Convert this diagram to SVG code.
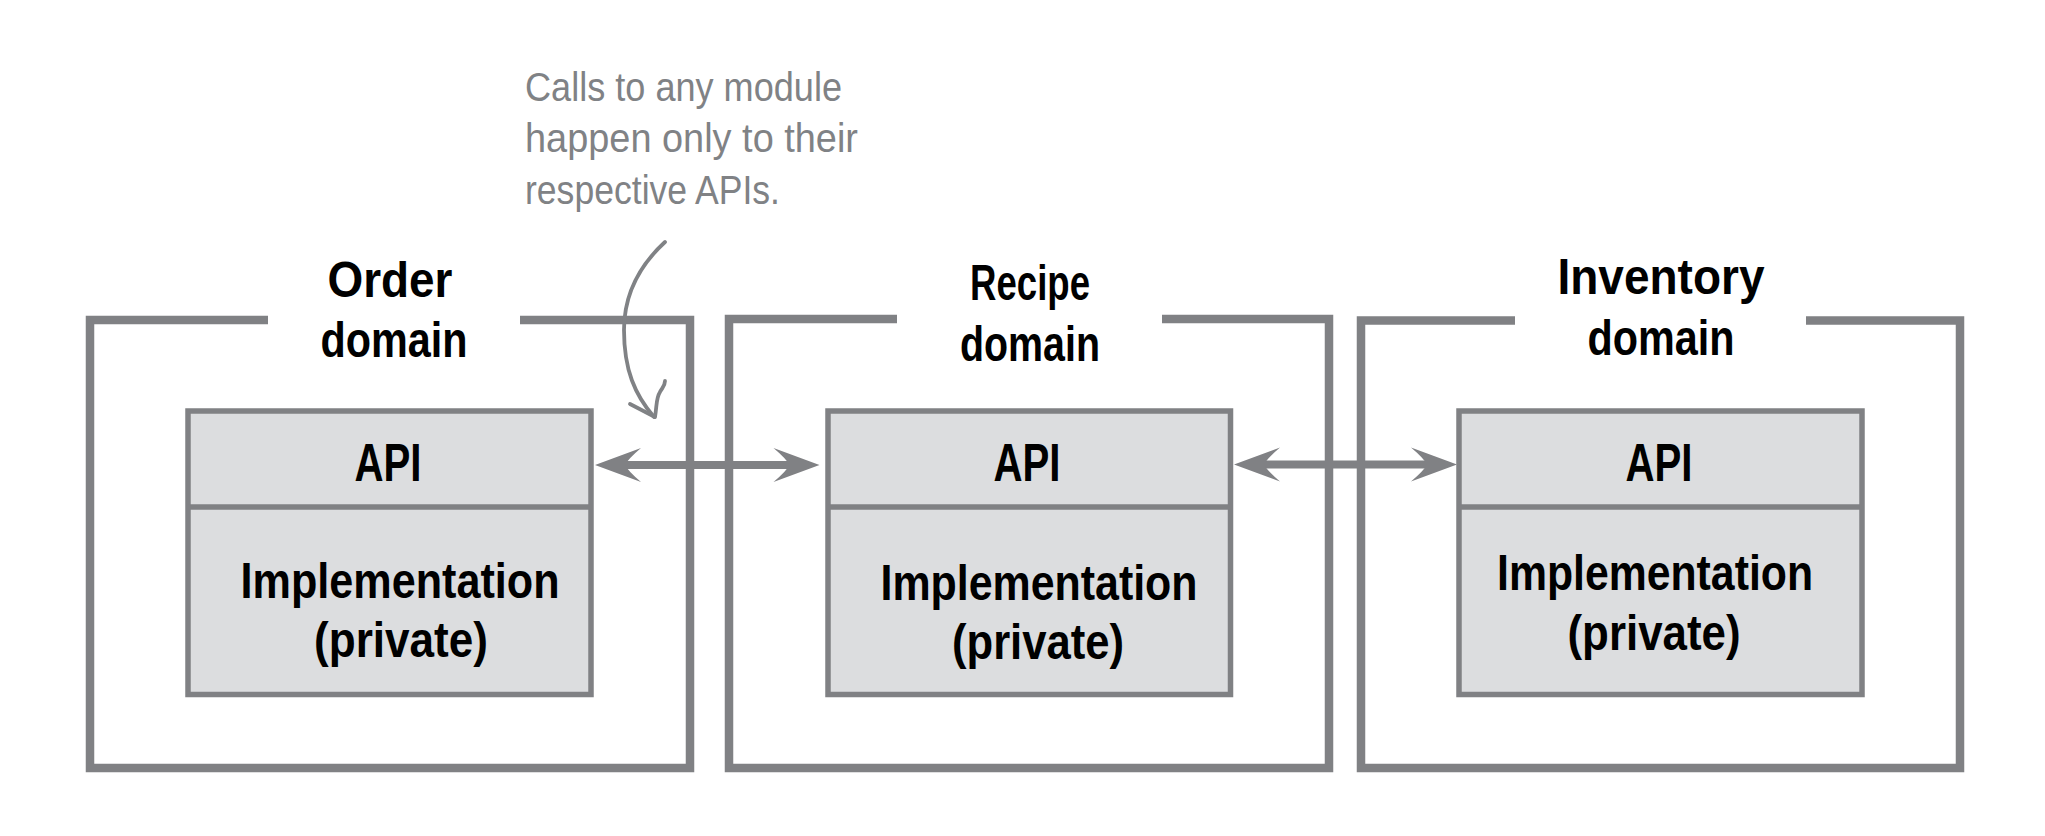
<svg xmlns="http://www.w3.org/2000/svg" width="2045" height="836" viewBox="0 0 2045 836">
<style>
.outer{fill:none;stroke:#808184;stroke-width:8.5;stroke-linejoin:miter;stroke-linecap:butt}
.inner{fill:#dcdddf;stroke:#808184;stroke-width:5.5}
.div{stroke:#808184;stroke-width:5.5}
.title{font-family:"Liberation Sans",Arial,sans-serif;font-weight:bold;font-size:50px;fill:#000;text-anchor:middle}
.api{font-family:"Liberation Sans",Arial,sans-serif;font-weight:bold;font-size:54px;fill:#000;text-anchor:middle}
.impl{font-family:"Liberation Sans",Arial,sans-serif;font-weight:bold;font-size:50px;fill:#000;text-anchor:middle}
.note{font-family:"Liberation Sans",Arial,sans-serif;font-size:40px;fill:#808285}
.conn{stroke:#808184;stroke-width:8;fill:none}
.ann{stroke:#808285;stroke-width:3.8;fill:none;stroke-linecap:round;stroke-linejoin:round}
</style>
<defs>
<marker id="ah" viewBox="-50 -20 52 40" markerWidth="52" markerHeight="40" markerUnits="userSpaceOnUse" refX="0" refY="0" orient="auto-start-reverse">
<path d="M0,0 L-46,-17 Q-33,-6 -30,0 Q-33,6 -46,17 Z" fill="#808184"/>
</marker>
</defs>

<g id="order-domain">
<path class="outer" d="M268,320 H90 V768 H690 V320 H520"/>
<text class="title" x="390" y="297" textLength="125" lengthAdjust="spacingAndGlyphs">Order</text>
<text class="title" x="394" y="357" textLength="147" lengthAdjust="spacingAndGlyphs">domain</text>
</g>
<g id="order-module">
<rect class="inner" x="188" y="411" width="403" height="283.5"/>
<line class="div" x1="188" y1="507" x2="591" y2="507"/>
<text class="api" x="388" y="481" textLength="67" lengthAdjust="spacingAndGlyphs">API</text>
<text class="impl" x="400" y="598" textLength="319" lengthAdjust="spacingAndGlyphs">Implementation</text>
<text class="impl" x="401" y="657" textLength="174" lengthAdjust="spacingAndGlyphs">(private)</text>
</g>

<g id="recipe-domain">
<path class="outer" d="M897,319 H729 V768 H1329 V319 H1162"/>
<text class="title" x="1030" y="300" textLength="120" lengthAdjust="spacingAndGlyphs">Recipe</text>
<text class="title" x="1030" y="361" textLength="140" lengthAdjust="spacingAndGlyphs">domain</text>
</g>
<g id="recipe-module">
<rect class="inner" x="828" y="411" width="402.5" height="283.5"/>
<line class="div" x1="828" y1="507" x2="1230.5" y2="507"/>
<text class="api" x="1027" y="481" textLength="67" lengthAdjust="spacingAndGlyphs">API</text>
<text class="impl" x="1039" y="600" textLength="317" lengthAdjust="spacingAndGlyphs">Implementation</text>
<text class="impl" x="1038" y="659" textLength="172" lengthAdjust="spacingAndGlyphs">(private)</text>
</g>

<g id="inventory-domain">
<path class="outer" d="M1515,320.5 H1361 V768 H1960 V320.5 H1806"/>
<text class="title" x="1661" y="294" textLength="207" lengthAdjust="spacingAndGlyphs">Inventory</text>
<text class="title" x="1661" y="355" textLength="147" lengthAdjust="spacingAndGlyphs">domain</text>
</g>
<g id="inventory-module">
<rect class="inner" x="1459" y="411" width="403" height="283.5"/>
<line class="div" x1="1459" y1="507" x2="1862" y2="507"/>
<text class="api" x="1659" y="481" textLength="67" lengthAdjust="spacingAndGlyphs">API</text>
<text class="impl" x="1655" y="590" textLength="316" lengthAdjust="spacingAndGlyphs">Implementation</text>
<text class="impl" x="1654" y="650" textLength="173" lengthAdjust="spacingAndGlyphs">(private)</text>
</g>

<g id="annotation">
<text class="note" x="525" y="101" textLength="317" lengthAdjust="spacingAndGlyphs">Calls to any module</text>
<text class="note" x="525" y="152" textLength="333" lengthAdjust="spacingAndGlyphs">happen only to their</text>
<text class="note" x="525" y="204" textLength="255" lengthAdjust="spacingAndGlyphs">respective APIs.</text>
</g>

<g id="connectors">
<line class="conn" x1="595" y1="465" x2="819.5" y2="465" marker-start="url(#ah)" marker-end="url(#ah)" stroke-dasharray="0 26 172.5 100"/>
<line class="conn" x1="1234" y1="464.5" x2="1457" y2="464.5" marker-start="url(#ah)" marker-end="url(#ah)" stroke-dasharray="0 26 171 100"/>
<path class="ann" d="M665,242 C640,265 624,295 624,330 C624,370 635,395 654,417"/>
<path class="ann" d="M630,404 L655,417 C657,405 656,398 660,392 C662,388 665,386 665,381"/>
</g>
</svg>
